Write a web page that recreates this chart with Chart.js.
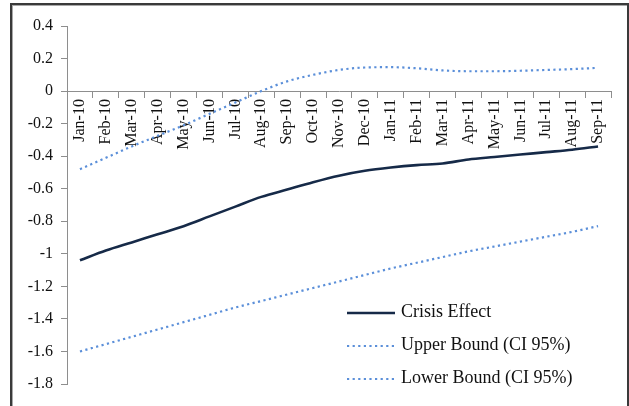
<!DOCTYPE html>
<html>
<head>
<meta charset="utf-8">
<script src="https://cdn.jsdelivr.net/npm/chart.js@4.4.1/dist/chart.umd.min.js"></script>
<style>
  html, body { margin: 0; padding: 0; background: #fff; }
  #wrap { position: relative; width: 629px; height: 406px; overflow: hidden; }
  #chart { position: absolute; left: 0; top: 0; }
  /* outer frame, bottom edge runs off the page */
  #frame {
    position: absolute; left: 10px; top: 3px; width: 615px; height: 430px;
    border: 2px solid #3a3a3a; box-shadow: inset 1px 1px 0 #a8a8a8;
    pointer-events: none;
  }
</style>
</head>
<body>
<div id="wrap">
  <canvas id="chart" width="629" height="406"></canvas>
  <div id="frame"></div>
</div>
<script>
// monthly estimates, Jan-10 .. Sep-11
const months = ['Jan-10', 'Feb-10', 'Mar-10', 'Apr-10', 'May-10', 'Jun-10', 'Jul-10',
  'Aug-10', 'Sep-10', 'Oct-10', 'Nov-10', 'Dec-10', 'Jan-11', 'Feb-11', 'Mar-11',
  'Apr-11', 'May-11', 'Jun-11', 'Jul-11', 'Aug-11', 'Sep-11'];

const crisisEffect = [-1.04, -0.98, -0.93, -0.88, -0.83, -0.77, -0.71, -0.65, -0.605,
  -0.56, -0.52, -0.49, -0.47, -0.455, -0.445, -0.42, -0.405, -0.39, -0.375, -0.36, -0.34];

const upperBound = [-0.48, -0.41, -0.34, -0.275, -0.21, -0.14, -0.07, 0.0, 0.06,
  0.10, 0.13, 0.145, 0.147, 0.14, 0.127, 0.122, 0.122, 0.125, 0.13, 0.135, 0.143];

const lowerBound = [-1.60, -1.555, -1.51, -1.465, -1.42, -1.375, -1.33, -1.29, -1.25,
  -1.21, -1.17, -1.13, -1.09, -1.055, -1.02, -0.985, -0.955, -0.925, -0.895, -0.865, -0.83];

const seriesNames = ['Crisis Effect', 'Upper Bound (CI 95%)', 'Lower Bound (CI 95%)'];

const yMin = -1.8;
const yMax = 0.4;
const yStep = 0.2;

const axisGrey = '#8e8e8e';
const serif = '"Liberation Serif", "Times New Roman", serif';

// legend drawn inside the plot, lower right
const legendBox = {
  id: 'legendBox',
  afterDraw(chart) {
    const { ctx, chartArea } = chart;
    const x0 = chartArea.right - 264;
    const y0 = chartArea.bottom - 71;
    chart.data.datasets.forEach((ds, i) => {
      const y = y0 + i * 33;
      ctx.save();
      ctx.strokeStyle = ds.borderColor;
      ctx.lineWidth = ds.borderWidth;
      ctx.setLineDash(ds.borderDash || []);
      ctx.beginPath();
      ctx.moveTo(x0, y);
      ctx.lineTo(x0 + 48, y);
      ctx.stroke();
      ctx.setLineDash([]);
      ctx.fillStyle = '#111';
      ctx.font = '18px ' + serif;
      ctx.textBaseline = 'middle';
      ctx.fillText(ds.label, x0 + 54, y - 1);
      ctx.restore();
    });
  }
};

new Chart(document.getElementById('chart'), {
  type: 'line',
  data: {
    labels: months,
    datasets: [
      {
        label: seriesNames[0],
        data: crisisEffect,
        borderColor: '#162a48',
        borderWidth: 2.6,
        pointRadius: 0,
        cubicInterpolationMode: 'monotone',
      },
      {
        label: seriesNames[1],
        data: upperBound,
        borderColor: '#5b8fd9',
        borderWidth: 2.2,
        borderDash: [2.2, 3.4],
        pointRadius: 0,
        cubicInterpolationMode: 'monotone',
      },
      {
        label: seriesNames[2],
        data: lowerBound,
        borderColor: '#5b8fd9',
        borderWidth: 2.2,
        borderDash: [2.2, 3.4],
        pointRadius: 0,
        cubicInterpolationMode: 'monotone',
      },
    ],
  },
  options: {
    responsive: false,
    animation: false,
    devicePixelRatio: 1,
    layout: { padding: { left: 0, right: 18, top: 26, bottom: 22 } },
    plugins: {
      legend: { display: false },
      tooltip: { enabled: false },
    },
    scales: {
      x: {
        type: 'category',
        position: { y: 0 },
        offset: true,
        grid: { offset: true, drawOnChartArea: false, drawTicks: true, tickLength: 6, color: axisGrey },
        border: { color: axisGrey, width: 1 },
        ticks: {
          autoSkip: false,
          minRotation: 90,
          maxRotation: 90,
          padding: 2,
          color: '#111',
          font: { family: serif, size: 16 },
        },
      },
      y: {
        min: yMin,
        max: yMax,
        afterFit: (scale) => { scale.width = 67; },
        grid: { drawOnChartArea: false, drawTicks: true, tickLength: 6, color: axisGrey },
        border: { color: axisGrey, width: 1 },
        ticks: {
          stepSize: yStep,
          padding: 8,
          color: '#111',
          font: { family: serif, size: 16 },
          callback: (v) => String(Math.round(v * 10) / 10),
        },
      },
    },
  },
  plugins: [legendBox],
});
</script>
</body>
</html>
